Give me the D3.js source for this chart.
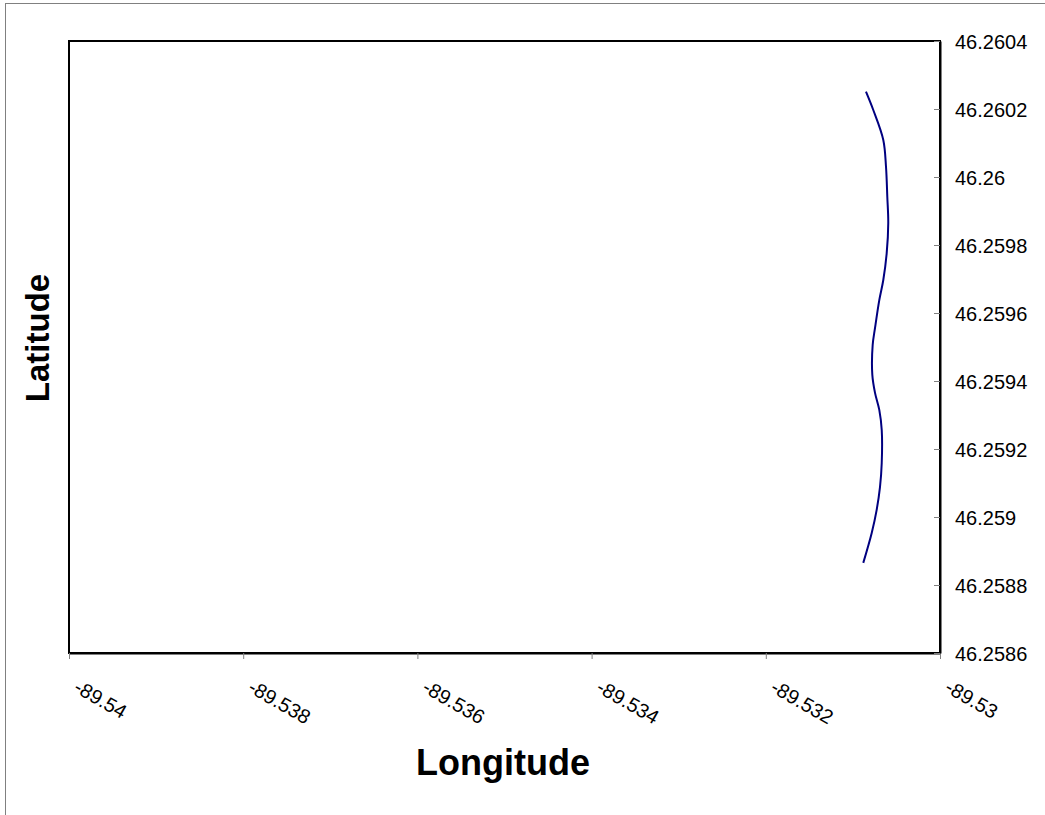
<!DOCTYPE html>
<html>
<head>
<meta charset="utf-8">
<script src="https://cdn.jsdelivr.net/npm/d3@7"></script>
<style>
  html, body { margin: 0; padding: 0; background: #fff; }
  svg { display: block; }
  text { font-family: "Liberation Sans", Arial, sans-serif; fill: #000; }
</style>
</head>
<body>
<svg id="chart" width="1045" height="815"></svg>
<script>
// ---- data ----
const longitudes = [-89.53085, -89.530766, -89.530651, -89.53062, -89.530605, -89.530594,
  -89.530612, -89.530651, -89.530697, -89.530746, -89.530773, -89.530777, -89.530746,
  -89.530697, -89.530669, -89.530669, -89.530689, -89.530727, -89.530784, -89.530881];
const latitudes = [46.260251, 46.260197, 46.260109, 46.26003, 46.259942, 46.259865,
  46.259776, 46.259697, 46.259638, 46.259556, 46.259506, 46.259418, 46.259365,
  46.259315, 46.259256, 46.259159, 46.259088, 46.259021, 46.258953, 46.258865];
const xTicks = [-89.54, -89.538, -89.536, -89.534, -89.532, -89.53];
const yTicks = [46.2586, 46.2588, 46.259, 46.2592, 46.2594, 46.2596, 46.2598, 46.26, 46.2602, 46.2604];
const xTitle = "Longitude";
const yTitle = "Latitude";

// ---- layout ----
const svg = d3.select("#chart");
const plot = { left: 69, right: 940, top: 41, bottom: 653 };

// outer frame (only top & left edges visible)
svg.append("rect")
  .attr("x", 5.5).attr("y", 3.5).attr("width", 1200).attr("height", 1000)
  .attr("fill", "none").attr("stroke", "#808080").attr("stroke-width", 1);

const x = d3.scaleLinear().domain([-89.54, -89.53]).range([plot.left, plot.right]);
const y = d3.scaleLinear().domain([46.2586, 46.2604]).range([plot.bottom, plot.top]);

// plot area frame
svg.append("rect")
  .attr("x", plot.left).attr("y", plot.top)
  .attr("width", plot.right - plot.left).attr("height", plot.bottom - plot.top)
  .attr("fill", "#fff").attr("stroke", "#000").attr("stroke-width", 2);

// x axis (bottom)
const xAxis = svg.append("g")
  .attr("transform", `translate(0,${plot.bottom})`)
  .call(d3.axisBottom(x).tickValues(xTicks).tickSize(6).tickSizeOuter(0).tickFormat(d => String(d)));
xAxis.select(".domain").attr("stroke", "#000").attr("stroke-width", 2);
xAxis.selectAll(".tick line").attr("stroke", "#808080").attr("stroke-width", 1);
xAxis.selectAll(".tick text")
  .attr("font-size", 20)
  .attr("font-family", "Liberation Sans, Arial, sans-serif")
  .attr("text-anchor", "start")
  .attr("x", 0).attr("y", 0).attr("dy", 0)
  .attr("transform", "translate(3,38) rotate(30)");

// y axis (right side, ticks inside)
const yAxis = svg.append("g")
  .attr("transform", `translate(${plot.right},0)`)
  .call(d3.axisLeft(y).tickValues(yTicks).tickSize(6).tickSizeOuter(0).tickFormat(d => String(d)));
yAxis.select(".domain").attr("stroke", "#000").attr("stroke-width", 2);
yAxis.selectAll(".tick line").attr("stroke", "#808080").attr("stroke-width", 1);
yAxis.selectAll(".tick text")
  .attr("font-size", 20)
  .attr("font-family", "Liberation Sans, Arial, sans-serif")
  .attr("text-anchor", "start")
  .attr("x", 15)
  .attr("dy", "0.35em");

// line
const line = d3.line()
  .x((d, i) => x(longitudes[i]))
  .y((d, i) => y(latitudes[i]))
  .curve(d3.curveCatmullRom.alpha(0.5));
svg.append("path")
  .datum(latitudes)
  .attr("d", line)
  .attr("fill", "none")
  .attr("stroke", "#000080")
  .attr("stroke-width", 2);

// titles
svg.append("text")
  .attr("x", 503).attr("y", 775)
  .attr("text-anchor", "middle")
  .attr("font-size", 36).attr("font-weight", "bold")
  .text(xTitle);

svg.append("text")
  .attr("transform", "translate(49,338) rotate(-90)")
  .attr("text-anchor", "middle")
  .attr("font-size", 33).attr("font-weight", "bold")
  .text(yTitle);
</script>
</body>
</html>
